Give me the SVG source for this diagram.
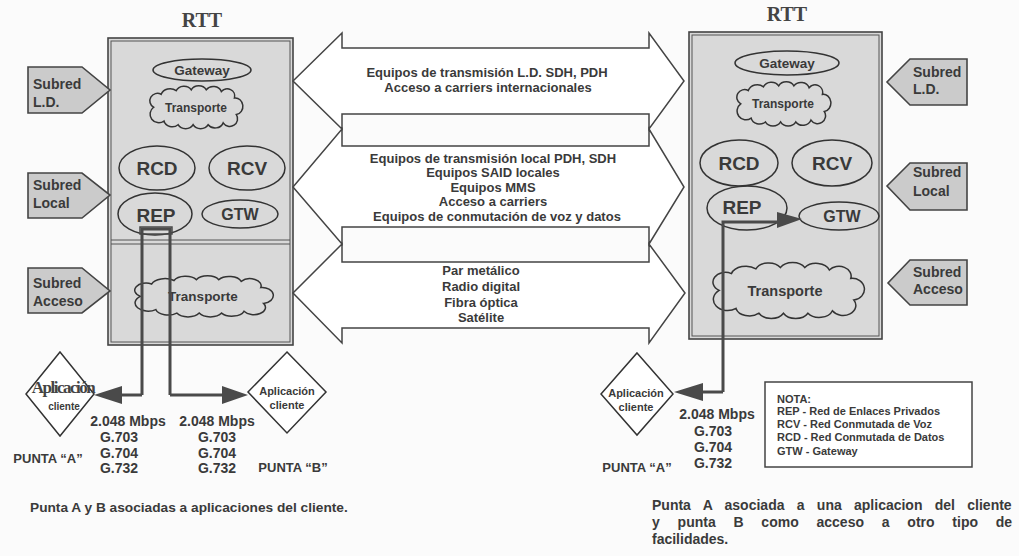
<svg xmlns="http://www.w3.org/2000/svg" width="1019" height="556" viewBox="0 0 1019 556">
<style>
.t{font-family:"Liberation Sans",Arial,sans-serif;font-weight:bold;fill:#3a3a3a}
.c{text-anchor:middle}
.ser{font-family:"Liberation Serif","Times New Roman",serif;font-weight:bold;fill:#444}
.box{fill:#d9d9d9;stroke:#444;stroke-width:1.6}
.inner{fill:none;stroke:#555;stroke-width:1}
.pent{fill:#cbcbcb;stroke:#444;stroke-width:1.6}
.ell{fill:none;stroke:#333;stroke-width:1.5}
.cloud{fill:#d9d9d9;stroke:#333;stroke-width:1.5}
.barrow{fill:#ffffff;stroke:#444;stroke-width:1.5;stroke-linejoin:miter}
.dia{fill:#ffffff;stroke:#333;stroke-width:1.5}
.conn{fill:none;stroke:#4a4a4a;stroke-width:3}
.head{fill:#4a4a4a;stroke:none}
</style>
<defs>
<path id="cloudshape" d="M6,22 A8,8 0 0 1 14,8 A10,9 0 0 1 30,4 A9,8 0 0 1 46,3 A9,8 0 0 1 62,3 A9,8 0 0 1 78,5 A8,8 0 0 1 92,12 A7,8 0 0 1 94,30 A8,8 0 0 1 80,39 A9,8 0 0 1 64,41 A9,8 0 0 1 48,41 A9,8 0 0 1 32,41 A9,8 0 0 1 17,37 A8,8 0 0 1 6,22 Z" vector-effect="non-scaling-stroke"/>
</defs>
<rect x="0" y="0" width="1019" height="556" fill="#fbfbfb"/>

<!-- Left RTT -->
<g id="rtt-left">
<text class="ser c" x="202" y="27" font-size="20">RTT</text>
<rect class="box" x="108" y="38" width="185" height="307"/>
<rect class="inner" x="111" y="41" width="179" height="301"/>
<line class="inner" x1="111" y1="240" x2="290" y2="240"/>
<line class="inner" x1="111" y1="244" x2="290" y2="244"/>
</g>
<g id="left-gateway"><ellipse class="ell" cx="202" cy="70" rx="49" ry="11"/><text class="t c" x="202" y="75" font-size="13.5">Gateway</text></g>
<g id="left-transporte1"><use href="#cloudshape" class="cloud" transform="translate(148,87) scale(0.94,0.92)"/><text class="t c" x="196" y="112" font-size="12">Transporte</text></g>
<g id="left-rcd"><ellipse class="ell" cx="157" cy="168" rx="38" ry="22"/><text class="t c" x="157" y="175" font-size="19">RCD</text></g>
<g id="left-rcv"><ellipse class="ell" cx="247" cy="168" rx="38" ry="22"/><text class="t c" x="247" y="175" font-size="19">RCV</text></g>
<g id="left-rep"><ellipse class="ell" cx="155" cy="214" rx="37" ry="21"/><text class="t c" x="156" y="222" font-size="19">REP</text></g>
<g id="left-gtw"><ellipse class="ell" cx="240" cy="214" rx="38" ry="14"/><text class="t c" x="240" y="220" font-size="16">GTW</text></g>
<g id="left-transporte2"><use href="#cloudshape" class="cloud" transform="translate(132,277) scale(1.4,0.88)"/><text class="t c" x="203" y="301" font-size="13.5">Transporte</text></g>

<g id="left-subred-ld"><path class="pent" d="M28,67 H82 L110,90 L82,113 H28 Z"/><text class="t" x="33" y="89" font-size="14">Subred</text><text class="t" x="33" y="107" font-size="14">L.D.</text></g>
<g id="left-subred-local"><path class="pent" d="M28,173 H82 L110,195 L82,218 H28 Z"/><text class="t" x="33" y="190" font-size="14">Subred</text><text class="t" x="33" y="208" font-size="14">Local</text></g>
<g id="left-subred-acceso"><path class="pent" d="M28,268 H82 L110,291 L82,313 H28 Z"/><text class="t" x="33" y="288" font-size="14">Subred</text><text class="t" x="33" y="306" font-size="14">Acceso</text></g>

<!-- Middle block arrows -->
<g id="arrow-ld">
<path class="barrow" d="M293,81 L342,33 V48 H649 V33 L684,81 L649,129 V114 H342 V129 Z"/>
<text class="t c" x="487" y="77" font-size="13">Equipos de transmisión L.D. SDH, PDH</text>
<text class="t c" x="488" y="92" font-size="13">Acceso a carriers internacionales</text>
</g>
<g id="arrow-local">
<path class="barrow" d="M293,187 L342,129 V146 H649 V129 L684,187 L649,244 V227 H342 V244 Z"/>
<text class="t c" x="493" y="163" font-size="13">Equipos de transmisión local PDH, SDH</text>
<text class="t c" x="493" y="177" font-size="13">Equipos SAID locales</text>
<text class="t c" x="493" y="192" font-size="13">Equipos MMS</text>
<text class="t c" x="493" y="206" font-size="13">Acceso a carriers</text>
<text class="t c" x="497" y="221" font-size="13">Equipos de conmutación de voz y datos</text>
</g>
<g id="arrow-acceso">
<path class="barrow" d="M293,293 L342,244 V262 H649 V244 L685,293 L649,343 V328 H342 V343 Z"/>
<text class="t c" x="481" y="275" font-size="13">Par metálico</text>
<text class="t c" x="481" y="291" font-size="13">Radio digital</text>
<text class="t c" x="481" y="307" font-size="13">Fibra óptica</text>
<text class="t c" x="481" y="322" font-size="13">Satélite</text>
</g>

<!-- Right RTT -->
<g id="rtt-right">
<text class="ser c" x="787" y="21" font-size="20">RTT</text>
<rect class="box" x="689" y="32" width="193" height="307"/>
<rect class="inner" x="692" y="35" width="187" height="301"/>
</g>
<g id="right-gateway"><ellipse class="ell" cx="787" cy="63" rx="52" ry="12"/><text class="t c" x="787" y="68" font-size="13.5">Gateway</text></g>
<g id="right-transporte1"><use href="#cloudshape" class="cloud" transform="translate(735,83) scale(0.95,0.95)"/><text class="t c" x="783" y="108" font-size="12">Transporte</text></g>
<g id="right-rcd"><ellipse class="ell" cx="739" cy="163" rx="39" ry="23"/><text class="t c" x="739" y="170" font-size="19">RCD</text></g>
<g id="right-rcv"><ellipse class="ell" cx="832" cy="163" rx="40" ry="23"/><text class="t c" x="832" y="170" font-size="19">RCV</text></g>
<g id="right-rep"><ellipse class="ell" cx="747" cy="208" rx="40" ry="22"/><text class="t c" x="742" y="214" font-size="19">REP</text></g>
<g id="right-gtw"><ellipse class="ell" cx="839" cy="216" rx="40" ry="14"/><text class="t c" x="842" y="222" font-size="16">GTW</text></g>
<g id="right-transporte2"><use href="#cloudshape" class="cloud" transform="translate(710,264) scale(1.53,1.2)"/><text class="t c" x="785" y="296" font-size="14.5">Transporte</text></g>

<g id="right-subred-ld"><path class="pent" d="M967,59 H910 L887,82 L910,105 H967 Z"/><text class="t" x="913" y="77" font-size="14">Subred</text><text class="t" x="913" y="94" font-size="14">L.D.</text></g>
<g id="right-subred-local"><path class="pent" d="M967,163 H910 L887,186 L910,210 H967 Z"/><text class="t" x="913" y="177" font-size="14">Subred</text><text class="t" x="913" y="196" font-size="14">Local</text></g>
<g id="right-subred-acceso"><path class="pent" d="M967,260 H910 L888,283 L910,305 H967 Z"/><text class="t" x="913" y="277" font-size="14">Subred</text><text class="t" x="913" y="294" font-size="14">Acceso</text></g>

<!-- Client diamonds -->
<g id="diamond-left-a"><path class="dia" d="M60,352 L94,394 L60,436 L26,394 Z"/><text class="ser c" x="63" y="393" font-size="17" letter-spacing="-1.5">Aplicación</text><text class="t c" x="64" y="410" font-size="10">cliente</text></g>
<g id="diamond-left-b"><path class="dia" d="M287,352 L326,392 L287,433 L248,392 Z"/><text class="t c" x="287" y="395" font-size="11">Aplicación</text><text class="t c" x="287" y="409" font-size="11">cliente</text></g>
<g id="diamond-right-a"><path class="dia" d="M637,353 L673,394 L637,435 L601,394 Z"/><text class="t c" x="636" y="397" font-size="11">Aplicación</text><text class="t c" x="636" y="411" font-size="11">cliente</text></g>

<!-- Connectors -->
<g id="connectors">
<path class="conn" d="M142,395 V229 H170 V395"/>
<rect x="140" y="227" width="32" height="7" fill="none" stroke="#4a4a4a" stroke-width="1.5"/>
<path class="conn" d="M142,395 H120"/>
<path class="head" d="M122,386 L94,395 L122,404 Z"/>
<path class="conn" d="M170,395 H224"/>
<path class="head" d="M222,386 L248,395 L222,404 Z"/>
<path class="conn" d="M723,392 V222 H780"/>
<path class="conn" d="M723,392 H702"/>
<path class="head" d="M703,383 L674,392 L703,401 Z"/>
<path class="head" d="M777,212 L802,219 L777,228 Z"/>
</g>

<!-- Labels -->
<g id="labels-left">
<text class="t c" x="128" y="426" font-size="14">2.048 Mbps</text>
<text class="t c" x="119" y="442" font-size="14">G.703</text>
<text class="t c" x="119" y="458" font-size="14">G.704</text>
<text class="t c" x="119" y="473" font-size="14">G.732</text>
<text class="t c" x="217" y="426" font-size="14">2.048 Mbps</text>
<text class="t c" x="217" y="442" font-size="14">G.703</text>
<text class="t c" x="217" y="458" font-size="14">G.704</text>
<text class="t c" x="217" y="473" font-size="14">G.732</text>
<text class="t c" x="48" y="463" font-size="13">PUNTA “A”</text>
<text class="t c" x="293" y="472" font-size="13">PUNTA “B”</text>
<text class="t" x="30" y="512" font-size="13.7">Punta A y B asociadas a aplicaciones del cliente.</text>
</g>
<g id="labels-right">
<text class="t c" x="717" y="419" font-size="14">2.048 Mbps</text>
<text class="t c" x="713" y="436" font-size="14">G.703</text>
<text class="t c" x="713" y="452" font-size="14">G.704</text>
<text class="t c" x="713" y="468" font-size="14">G.732</text>
<text class="t c" x="637" y="472" font-size="13">PUNTA “A”</text>
<text class="t" x="652" y="510" font-size="14" word-spacing="8.4">Punta A asociada a una aplicacion del cliente</text>
<text class="t" x="652" y="527" font-size="14" word-spacing="13.9">y punta B como acceso a otro tipo de</text>
<text class="t" x="652" y="544" font-size="14">facilidades.</text>
</g>
<g id="nota">
<rect x="765" y="382" width="207" height="85" fill="#ffffff" stroke="#444" stroke-width="1.5"/>
<text class="t" x="777" y="403" font-size="11">NOTA:</text>
<text class="t" x="777" y="415" font-size="11">REP - Red de Enlaces Privados</text>
<text class="t" x="777" y="428" font-size="11">RCV - Red Conmutada de Voz</text>
<text class="t" x="777" y="441" font-size="11">RCD - Red Conmutada de Datos</text>
<text class="t" x="777" y="455" font-size="11">GTW - Gateway</text>
</g>
</svg>
